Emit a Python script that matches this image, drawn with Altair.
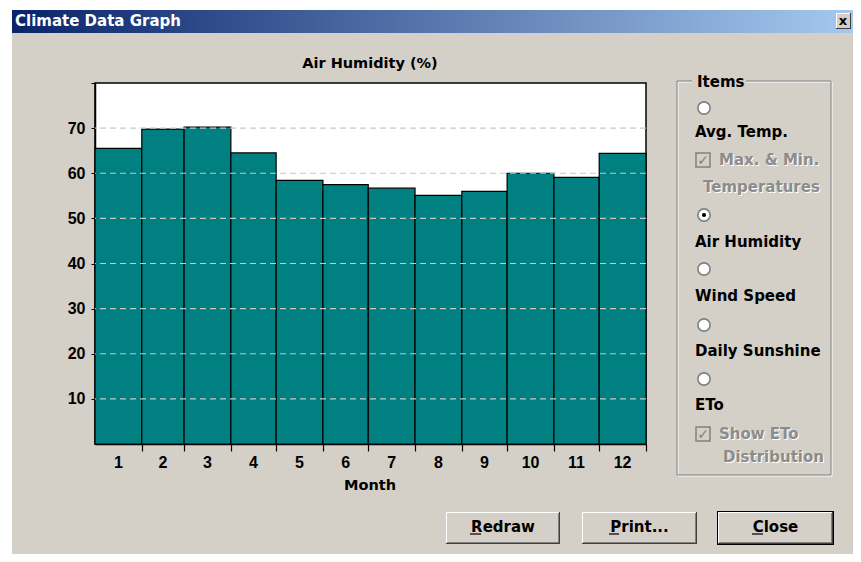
import altair as alt
import pandas as pd

# ---------------- data ----------------
months = [1, 2, 3, 4, 5, 6, 7, 8, 9, 10, 11, 12]
month_days = [31, 28, 31, 30, 31, 30, 31, 31, 30, 31, 30, 31]
air_humidity = [65.5, 69.8, 70.2, 64.5, 58.4, 57.5, 56.7, 55.1, 56.0, 60.0, 59.1, 64.4]
y_ticks = [10, 20, 30, 40, 50, 60, 70, 80]
grid_values = [10, 20, 30, 40, 50, 60, 70]

panel_title = "Climate Data Graph"
chart_title = "Air Humidity (%)"
x_title = "Month"

df = pd.DataFrame({"month": months, "days": month_days, "hum": air_humidity})
df["end"] = df["days"].cumsum()
df["start"] = df["end"] - df["days"]
df["mid"] = (df["start"] + df["end"]) / 2
boundaries = df["end"].tolist()
grid_df = pd.DataFrame({"g": grid_values})

# ---------------- layout helpers (UI chrome) ----------------
PLOT_X0, PLOT_Y0 = 95, 83          # plot origin in page pixels
W, H = 551, 361
GRAY = "#D4D0C8"
BOLD_TXT = "DejaVu Sans"
DIGITS = "Liberation Sans"
one = pd.DataFrame({"a": [0]})


def px(x):
    return x - PLOT_X0


def py(y):
    return y - PLOT_Y0


def rect(x0, y0, x1, y1, fill, stroke=None, sw=1):
    kw = dict(fill=fill, opacity=1)
    if stroke:
        kw.update(stroke=stroke, strokeWidth=sw)
    return alt.Chart(one).mark_rect(**kw).encode(
        x=alt.value(px(x0)), x2=alt.value(px(x1)),
        y=alt.value(py(y0)), y2=alt.value(py(y1)))


def text(x, y, s, size=15, color="black", align="left", font=BOLD_TXT):
    return alt.Chart(one).mark_text(
        text=s, font=font, fontSize=size, fontWeight="bold", color=color,
        align=align, baseline="middle").encode(x=alt.value(px(x)), y=alt.value(py(y)))


def hline(x0, x1, y, color="black", sw=1.2):
    return alt.Chart(one).mark_rule(color=color, strokeWidth=sw).encode(
        x=alt.value(px(x0)), x2=alt.value(px(x1)), y=alt.value(py(y)))


def radio(x, y, checked=False):
    layers = [alt.Chart(one).mark_point(
        shape="circle", filled=True, fill="white", stroke="#808080",
        strokeWidth=1.6, size=150, opacity=1).encode(
        x=alt.value(px(x)), y=alt.value(py(y)))]
    if checked:
        layers.append(alt.Chart(one).mark_point(
            shape="circle", filled=True, color="black", size=18, opacity=1).encode(
            x=alt.value(px(x)), y=alt.value(py(y))))
    return layers


def checkbox(x, y):
    return [rect(x - 7, y - 7, x + 7, y + 7, fill=GRAY, stroke="#808080", sw=1.5),
            text(x, y + 1, "✓", size=14, color="#808080", align="center")]


def disabled(x, y, s):
    return [text(x + 1, y + 1, s, color="white"), text(x, y, s, color="#8C8C8C")]


def button(x0, y0, x1, y1, label, ux0, ux1, default=False):
    out = []
    if default:
        out.append(rect(x0, y0, x1, y1, fill="black"))
        x0, y0, x1, y1 = x0 + 1, y0 + 1, x1 - 1, y1 - 1
    out += [rect(x0, y0, x1, y1, fill="#404040"),
            rect(x0, y0, x1 - 1, y1 - 1, fill="white"),
            rect(x0 + 1, y0 + 1, x1 - 1, y1 - 1, fill="#808080"),
            rect(x0 + 1, y0 + 1, x1 - 2, y1 - 2, fill=GRAY),
            text((x0 + x1) / 2, 527, label, align="center"),
            hline(ux0, ux1, 534)]
    return out


chrome = []
# white strips of the page behind the dialog
chrome.append(rect(8, 8, 861, 10, fill="white"))
chrome.append(rect(8, 8, 12, 562, fill="white"))
# title bar
chrome.append(alt.Chart(one).mark_rect(
    color=alt.Gradient(gradient="linear",
                       stops=[alt.GradientStop(color="#0A246A", offset=0),
                              alt.GradientStop(color="#A6CAF0", offset=1)],
                       x1=0, x2=1, y1=0, y2=0)).encode(
    x=alt.value(px(12)), x2=alt.value(px(861)),
    y=alt.value(py(10)), y2=alt.value(py(33))))
chrome.append(text(15, 21, panel_title, size=15, color="white"))
chrome.append(rect(836, 13, 851, 29, fill="#404040"))
chrome.append(rect(836, 13, 850, 28, fill="white"))
chrome.append(rect(837, 14, 850, 28, fill=GRAY))
chrome.append(text(843, 21, "x", size=13, align="center"))

# Items group box
chrome.append(rect(678, 82, 832, 476, fill="transparent", stroke="white", sw=1))
chrome.append(rect(677, 81, 831, 475, fill="transparent", stroke="#808080", sw=1))
chrome.append(rect(692, 74, 746, 90, fill=GRAY))
chrome.append(text(697, 82, "Items"))

chrome += radio(704, 108)
chrome.append(text(695, 132, "Avg. Temp."))
chrome += checkbox(703, 160)
chrome += disabled(719, 160, "Max. & Min.")
chrome += disabled(703, 187, "Temperatures")
chrome += radio(704, 215, checked=True)
chrome.append(text(695, 242, "Air Humidity"))
chrome += radio(704, 269)
chrome.append(text(695, 296, "Wind Speed"))
chrome += radio(704, 325)
chrome.append(text(695, 351, "Daily Sunshine"))
chrome += radio(704, 379)
chrome.append(text(695, 405, "ETo"))
chrome += checkbox(703, 434)
chrome += disabled(719, 434, "Show ETo")
chrome += disabled(723, 457, "Distribution")

# buttons
chrome += button(446, 512, 560, 544, "Redraw", 470, 481)
chrome += button(582, 512, 697, 544, "Print...", 609, 619)
chrome += button(717, 511, 834, 545, "Close", 752, 763, default=True)

# chart title
chrome.append(text(370, 64, chart_title, size=14.5, align="center"))
chrome.append(text(370, 486, x_title, size=14.5, align="center"))

# ---------------- the chart ----------------
xscale = alt.Scale(domain=[0, 365], nice=False, zero=True)
yscale = alt.Scale(domain=[0, 80], nice=False)

bars = alt.Chart(df).mark_rect(color="#008080", stroke="black", strokeWidth=1.2).encode(
    x=alt.X("start:Q", scale=xscale,
            axis=alt.Axis(values=boundaries, labels=False, tickSize=7, tickColor="black",
                          tickWidth=1.2, domainColor="black", domainWidth=1.5,
                          grid=False, title=None)),
    x2="end:Q",
    y=alt.Y("hum:Q", scale=yscale,
            axis=alt.Axis(values=y_ticks, tickSize=4, tickColor="black", domainColor="black",
                          domainWidth=1.5, grid=False, title=None, labelPadding=6,
                          labelFont=DIGITS, labelFontSize=16, labelFontWeight="bold",
                          labelColor="black",
                          labelExpr="datum.value >= 80 ? '' : datum.label")),
    y2=alt.datum(0),
)

grid = alt.Chart(grid_df).mark_rule(color="#C8C8C8", strokeDash=[6, 4], strokeWidth=1.2).encode(
    y=alt.Y("g:Q", scale=yscale))

month_labels = alt.Chart(df).mark_text(
    font=DIGITS, fontSize=16, fontWeight="bold", color="black", baseline="middle").encode(
    x=alt.X("mid:Q", scale=xscale), y=alt.value(py(463)), text="month:N")

chart = alt.layer(*chrome, bars, grid, month_labels).properties(
    width=W, height=H,
    autosize=alt.AutoSizeParams(type="none"),
    padding={"left": 87, "top": 75, "right": 207, "bottom": 110},
    background=GRAY,
).configure_view(fill="white", stroke="black", strokeWidth=1.5)

chart.save("out.html", embed_options={"renderer": "svg", "actions": False})
